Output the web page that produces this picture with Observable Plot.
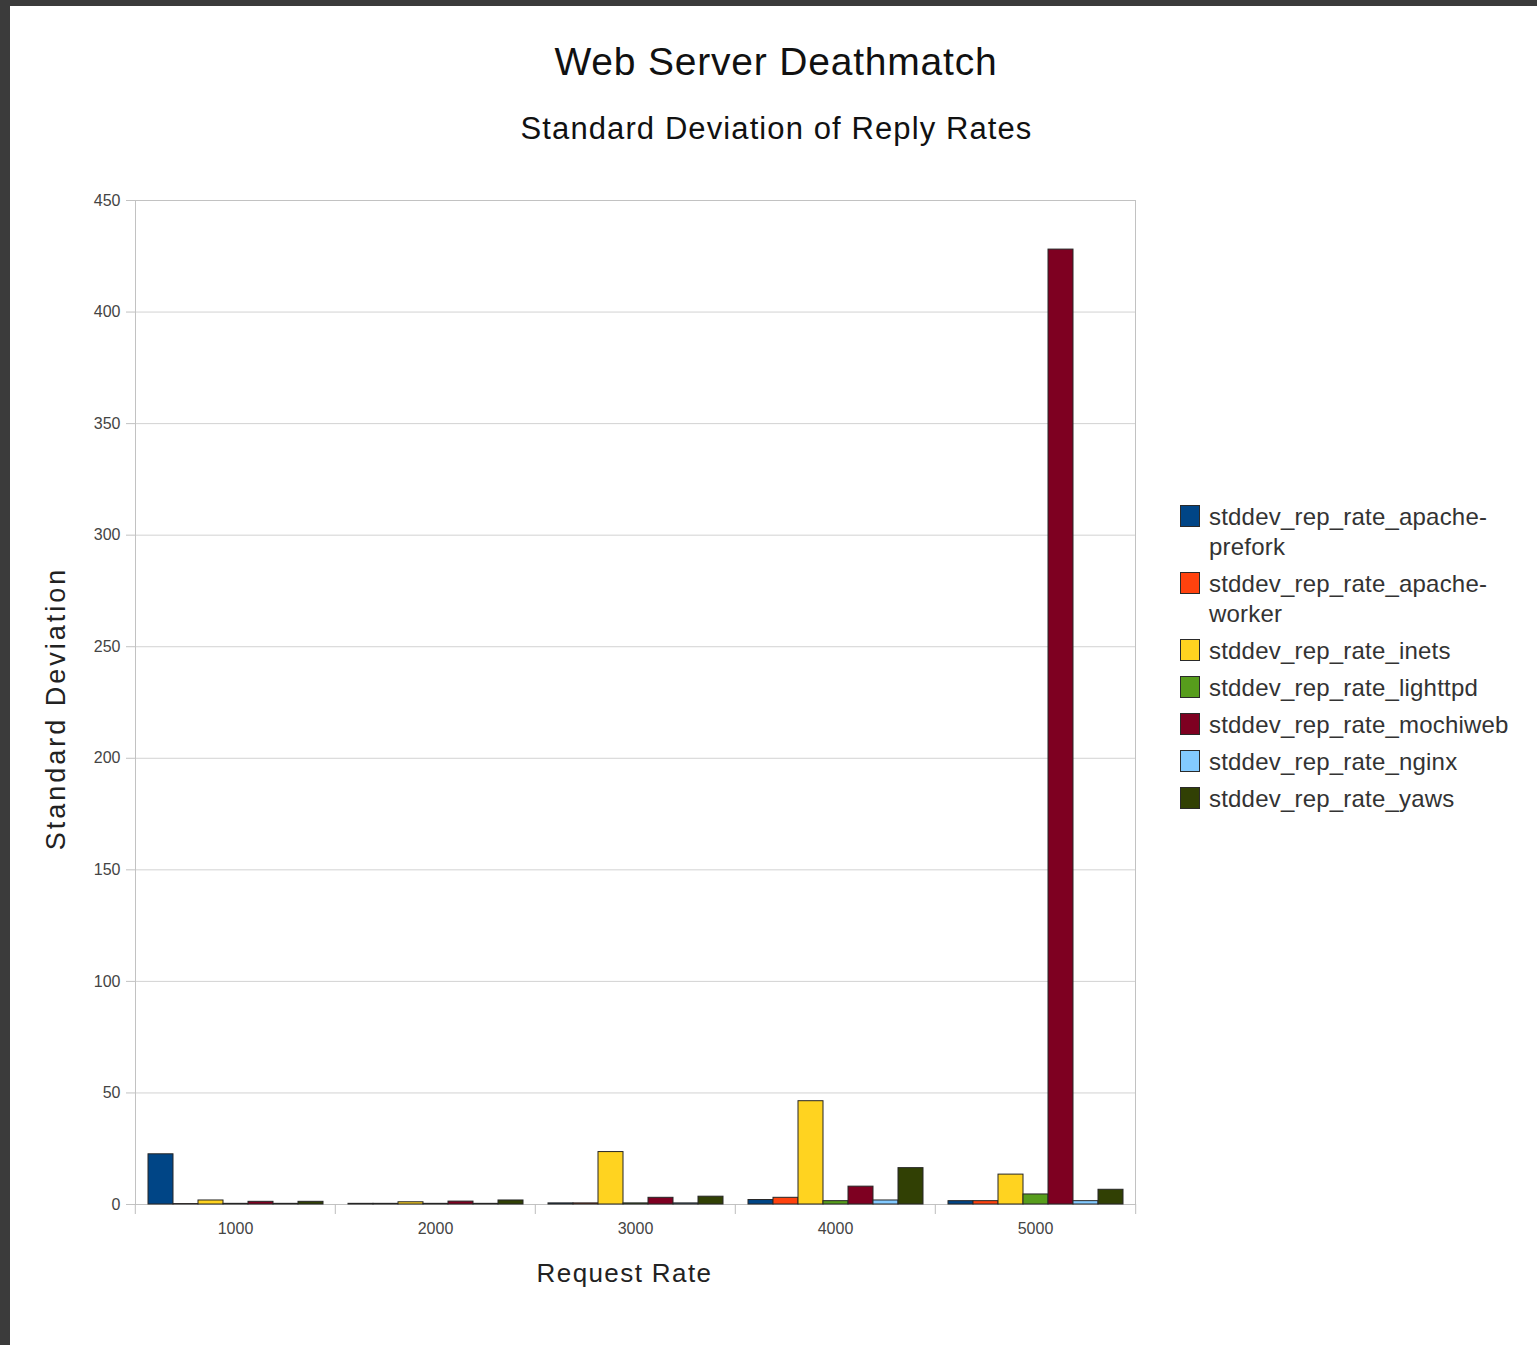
<!DOCTYPE html>
<html>
<head>
<meta charset="utf-8">
<script src="https://cdn.jsdelivr.net/npm/d3@7"></script>
<script src="https://cdn.jsdelivr.net/npm/@observablehq/plot@0.6"></script>
<style>
  html, body { margin: 0; padding: 0; }
  body { width: 1537px; height: 1345px; background: #3b3b3b; position: relative; overflow: hidden;
         font-family: "Liberation Sans", Arial, sans-serif; }
  #panel { position: absolute; left: 10px; top: 6px; right: 0; bottom: 0; background: #fff; }
  #title { position: absolute; left: 0; width: 1552px; top: 42px; text-align: center;
           font-size: 39px; line-height: 39px; color: #111; letter-spacing: 0.8px; }
  #subtitle { position: absolute; left: 0; width: 1553px; top: 113px; text-align: center;
              font-size: 31px; line-height: 31px; color: #111; letter-spacing: 1.1px; }
  #chart { position: absolute; left: 10px; top: 6px; }
  #legend { position: absolute; left: 1180px; top: 502px; width: 350px; }
  .item { display: flex; align-items: flex-start; margin-bottom: 7px; }
  .sw { flex: none; width: 20px; height: 22px; margin-top: 3px; margin-right: 9px;
        box-sizing: border-box; border: 1px solid #2a2a2a; }
  .lab { width: 310px; font-size: 24px; line-height: 30px; color: #333; letter-spacing: 0.2px; }
</style>
</head>
<body>
<div id="panel"></div>
<div id="title">Web Server Deathmatch</div>
<div id="subtitle">Standard Deviation of Reply Rates</div>
<div id="chart"></div>
<div id="legend"></div>
<script>
// Categories (request rates) and series names
const rates = ["1000", "2000", "3000", "4000", "5000"];
const servers = [
  "stddev_rep_rate_apache-prefork",
  "stddev_rep_rate_apache-worker",
  "stddev_rep_rate_inets",
  "stddev_rep_rate_lighttpd",
  "stddev_rep_rate_mochiweb",
  "stddev_rep_rate_nginx",
  "stddev_rep_rate_yaws"
];
const colors = ["#004586", "#ff420e", "#ffd320", "#579d1c", "#7e0021", "#83caff", "#314004"];

// Series values, one per request rate (1000..5000)
const apachePrefork = [22.5, 0.3, 0.5, 2.0, 1.5];
const apacheWorker  = [0.2, 0.3, 0.5, 3.0, 1.5];
const inets         = [1.8, 1.0, 23.5, 46.3, 13.4];
const lighttpd      = [0.3, 0.3, 0.5, 1.5, 4.5];
const mochiweb      = [1.2, 1.3, 3.0, 8.0, 428];
const nginx         = [0.3, 0.3, 0.5, 1.8, 1.5];
const yaws          = [1.2, 1.8, 3.5, 16.3, 6.6];
const series = [apachePrefork, apacheWorker, inets, lighttpd, mochiweb, nginx, yaws];

const yTicks = [0, 50, 100, 150, 200, 250, 300, 350, 400, 450];
const yLabel = "Standard Deviation";
const xLabel = "Request Rate";

const data = rates.flatMap((rate, i) =>
  servers.map((server, j) => ({rate, server, value: series[j][i]})));

const W = 1150, H = 1300, mL = 124, mR = 24, mT = 194, mB = 102;
const bw = (W - mL - mR) / rates.length;
const font = "'Liberation Sans', Arial, sans-serif";

const chart = Plot.plot({
  width: W, height: H,
  marginLeft: mL, marginRight: mR, marginTop: mT, marginBottom: mB,
  style: {background: "transparent", fontFamily: font, overflow: "visible"},
  fx: {domain: rates, padding: 0, label: null},
  x: {domain: servers, paddingInner: 0, paddingOuter: 0.5, axis: null},
  y: {domain: [0, 450], label: null},
  color: {domain: servers, range: colors},
  marks: [
    Plot.gridY({ticks: yTicks, stroke: "#d2d2d2", strokeOpacity: 1}),
    Plot.frame({facet: "super", stroke: "#c2c2c2"}),
    Plot.barY(data, {fx: "rate", x: "server", y: "value", fill: "server",
                     stroke: "#262626", strokeWidth: 1}),
    Plot.axisY({ticks: yTicks, tickSize: 9, tickPadding: 6, fontSize: 16,
                stroke: "#c2c2c2", fill: "#444", label: null}),
    Plot.axisFx({anchor: "bottom", tickSize: 0, tickPadding: 18, fontSize: 16, fill: "#444", label: null}),
    Plot.axisFx({anchor: "bottom", tickSize: 10, tickFormat: () => "", dx: -bw / 2,
                 stroke: "#bdbdbd", label: null}),
    Plot.axisFx({anchor: "bottom", ticks: [rates[rates.length - 1]], tickSize: 10,
                 tickFormat: () => "", dx: bw / 2, stroke: "#bdbdbd", label: null}),
    Plot.text([yLabel], {text: d => d, frameAnchor: "left", textAnchor: "middle", rotate: -90,
              dx: -79, dy: 6, fontSize: 27, fill: "#222", facet: "super"}),
    Plot.text([xLabel], {text: d => d, frameAnchor: "bottom", textAnchor: "middle", dx: -11, dy: 77,
              fontSize: 26, fill: "#222", facet: "super"})
  ]
});
document.getElementById("chart").appendChild(chart);

// Letter spacing of the axis titles (styling only)
chart.querySelectorAll("text").forEach(t => {
  if (t.textContent === yLabel) t.style.letterSpacing = "3px";
  if (t.textContent === xLabel) t.style.letterSpacing = "1.4px";
});

// Legend
const legend = document.getElementById("legend");
servers.forEach((s, i) => {
  const item = document.createElement("div");
  item.className = "item";
  const sw = document.createElement("div");
  sw.className = "sw";
  sw.style.background = colors[i];
  const lab = document.createElement("div");
  lab.className = "lab";
  lab.textContent = s;
  item.appendChild(sw);
  item.appendChild(lab);
  legend.appendChild(item);
});
</script>
</body>
</html>
